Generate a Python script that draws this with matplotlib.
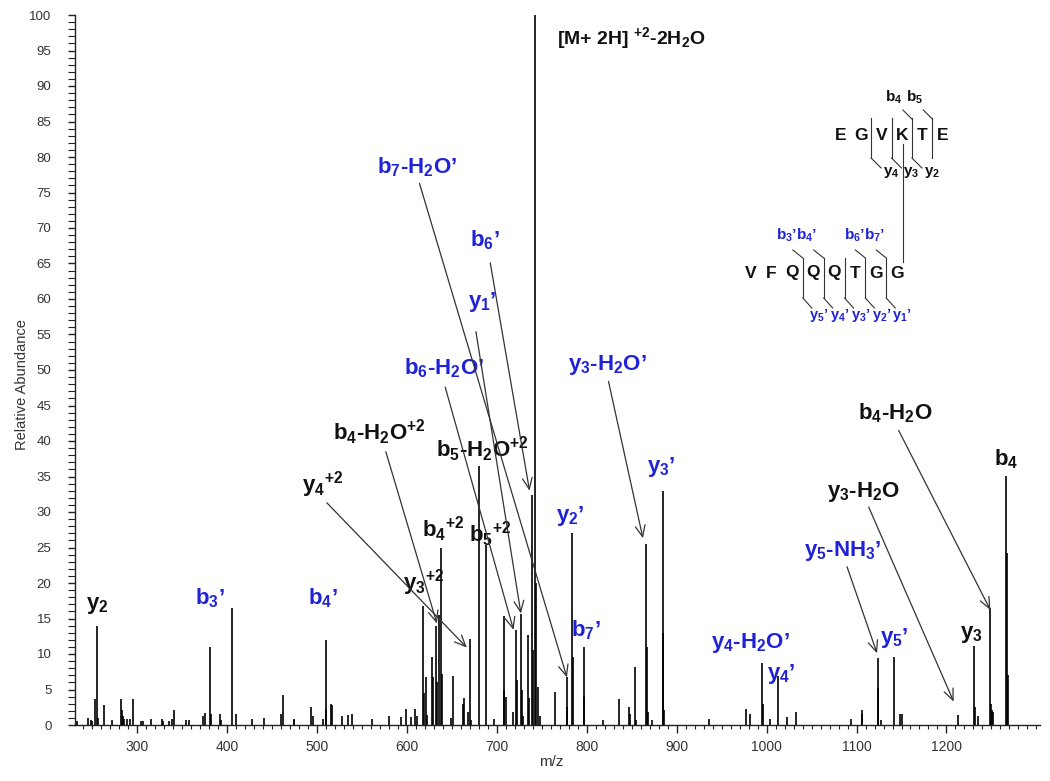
import matplotlib
matplotlib.use('Agg')
import matplotlib.pyplot as plt
from matplotlib.ticker import MultipleLocator
import matplotlib.transforms as mtrans

plt.rcParams['font.family'] = ['Liberation Sans', 'DejaVu Sans']
plt.rcParams['mathtext.fontset'] = 'custom'
plt.rcParams['mathtext.rm'] = 'Liberation Sans:bold'
plt.rcParams['mathtext.bf'] = 'Liberation Sans:bold'
plt.rcParams['mathtext.it'] = 'Liberation Sans:bold'

# ---------------- data ----------------
peak_mz = [233.6, 245, 248.5, 250, 253.3, 255.8, 257, 263, 272.5, 282.5, 283.3, 284.2, 285.5,
           288.5, 292, 296, 304, 307, 316, 328, 329, 335, 338.5, 341.5, 354.5, 358, 373.8, 375.3,
           381.6, 382.3, 392, 393.5, 406, 410, 428, 441.6, 459.8, 462, 474, 474.6, 493.5, 495.5,
           506.5, 510, 510.5, 515.8, 517, 527.7, 534, 539.5, 561, 579.6, 593.3, 599.2, 604.4,
           609.2, 611, 618.5, 619.2, 621.5, 622.5, 628.5, 629.5, 632, 633, 635.7, 638.2, 638.8,
           649, 651.8, 662.3, 663.8, 667.5, 670.4, 671.5, 679.7, 688, 697, 707.5, 708.5, 710.5,
           717.5, 721.2, 722, 726.8, 727.7, 729.5, 734.6, 736, 739.7, 740.5, 742.8, 744, 746,
           748, 765, 778, 778.6, 783.5, 784.2, 796.5, 797.2, 818, 835.5, 847.3, 848.5, 853.2,
           854.5, 866.2, 866.8, 868.5, 873, 884.7, 885.3, 886, 936, 977, 982, 995, 995.8, 1004,
           1012.3, 1022.6, 1032.7, 1094, 1105.7, 1106.3, 1123.5, 1124.2, 1127.5, 1141.3, 1148,
           1150.5, 1213, 1230.7, 1231.8, 1235.5, 1248.8, 1249.5, 1250.8, 1252, 1266.6, 1267.2,
           1268]
peak_int = [0.6, 1.0, 0.7, 0.6, 3.6, 14.0, 1.0, 2.8, 0.7, 3.7, 2.1, 1.2, 0.9,
            0.8, 0.8, 3.6, 0.6, 0.6, 0.8, 0.9, 0.6, 0.6, 0.9, 2.1, 0.7, 0.7, 1.2, 1.7,
            11.0, 1.5, 1.5, 0.7, 16.5, 1.5, 0.8, 1.0, 1.5, 4.2, 0.9, 0.7, 2.6, 1.2,
            0.8, 12.0, 2.3, 3.0, 2.8, 1.3, 1.4, 1.5, 0.9, 1.2, 1.1, 2.3, 1.1,
            2.3, 1.3, 16.7, 4.5, 6.7, 1.4, 9.6, 6.7, 14.0, 6.0, 15.5, 24.9, 7.2,
            1.0, 6.9, 3.0, 3.8, 1.9, 12.1, 0.7, 36.5, 25.3, 0.8, 15.3, 4.9, 4.0,
            1.9, 13.4, 6.3, 15.7, 4.9, 1.2, 12.7, 3.8, 32.4, 10.6, 100.0, 20.0, 5.4,
            1.2, 4.6, 6.8, 2.6, 27.1, 9.6, 11.0, 4.0, 0.7, 3.6, 2.6, 1.6, 8.1,
            0.7, 25.5, 11.0, 1.9, 0.7, 33.0, 13.0, 2.1, 0.8, 2.3, 1.6, 8.7, 3.0, 0.9,
            6.9, 1.1, 1.9, 0.9, 2.1, 1.5, 9.5, 5.2, 0.7, 9.6, 1.6,
            1.6, 1.4, 11.1, 2.6, 1.2, 16.5, 3.0, 2.1, 1.9, 35.1, 24.2,
            7.0]

BLUE = '#1f22d6'
BLACK = '#111111'

# peak labels: text, x (m/z), y (%), colour
label_text = ['b$_{7}$-H$_{2}$O’', 'b$_{6}$’', 'y$_{1}$’', 'b$_{6}$-H$_{2}$O’',
              'b$_{5}$-H$_{2}$O$^{+2}$', 'b$_{4}$-H$_{2}$O$^{+2}$', 'y$_{4}$$^{+2}$',
              'b$_{4}$$^{+2}$', 'b$_{5}$$^{+2}$', 'y$_{3}$$^{+2}$', 'y$_{2}$', 'b$_{3}$’', 'b$_{4}$’',
              'y$_{2}$’', 'b$_{7}$’', 'y$_{3}$-H$_{2}$O’', 'y$_{3}$’', 'y$_{4}$-H$_{2}$O’',
              'y$_{4}$’', 'y$_{5}$-NH$_{3}$’', 'y$_{5}$’', 'y$_{3}$-H$_{2}$O', 'y$_{3}$',
              'b$_{4}$-H$_{2}$O', 'b$_{4}$']
label_x = [611.5, 687.1, 683.8, 641.5, 683.8, 569.2, 505.8, 640.4, 692.7, 618.1, 255.5,
           381.2, 506.9, 781.6, 799.4, 822.8, 882.9, 981.9, 1016.4, 1084.2, 1142.0,
           1107.6, 1227.7, 1143.2, 1266.6]
label_y = [78.6, 68.3, 59.6, 50.3, 38.9, 41.3, 33.9, 27.6, 26.9, 20.0, 16.9, 17.9, 17.9,
           29.4, 13.4, 50.7, 36.3, 11.5, 7.2, 24.5, 12.3, 32.8, 12.7, 43.9, 37.5]
label_blue = [True, True, True, True, False, False, False, False, False, False, False,
              True, True, True, True, True, True, True, True, True, True, False, False,
              False, False]

# arrows: start (m/z, %) -> tip (m/z, %)
arrow_x0 = [614.0, 692.7, 676.8, 642.6, 576.6, 511.0, 824.2, 1089.4, 1113.5, 1146.8]
arrow_y0 = [76.3, 65.1, 55.4, 47.6, 38.5, 31.3, 48.4, 22.3, 30.7, 41.5]
arrow_x1 = [778.0, 736.4, 726.8, 718.6, 633.4, 666.7, 862.5, 1122.8, 1208.0, 1248.8]
arrow_y1 = [6.7, 33.0, 15.7, 13.4, 14.3, 10.9, 26.3, 10.1, 3.3, 16.2]

precursor_label = '[M+ 2H] $^{+2}$-2H$_{2}$O'

# cross-linked peptide sketch
seq_top = ['E', 'G', 'V', 'K', 'T', 'E']
seq_bottom = ['V', 'F', 'Q', 'Q', 'Q', 'T', 'G', 'G']
top_b_labels = ['b$_{4}$', 'b$_{5}$']
top_y_labels = ['y$_{4}$', 'y$_{3}$', 'y$_{2}$']
bot_b_labels = ['b$_{3}$’b$_{4}$’', 'b$_{6}$’b$_{7}$’']
bot_y_labels = ['y$_{5}$’', 'y$_{4}$’', 'y$_{3}$’', 'y$_{2}$’', 'y$_{1}$’']

# ---------------- figure ----------------
W, H = 1050, 781
fig = plt.figure(figsize=(W / 100, H / 100), dpi=100)
ax = fig.add_axes([75 / W, 1 - 725 / H, (1040 - 75) / W, (725 - 15) / H])

ax.vlines(peak_mz, 0, peak_int, color='black', lw=1.2)

ax.set_xlim(231, 1304)
ax.set_ylim(0, 100)
ax.spines['top'].set_visible(False)
ax.spines['right'].set_visible(False)
for s in ('left', 'bottom'):
    ax.spines[s].set_color('#222222')
    ax.spines[s].set_linewidth(1.0)
ax.set_xticks(range(300, 1201, 100))
ax.xaxis.set_minor_locator(MultipleLocator(10))
ax.yaxis.set_major_locator(MultipleLocator(5))
ax.yaxis.set_minor_locator(MultipleLocator(1))
ax.tick_params(axis='x', which='major', length=6, width=1, color='#222222',
               labelsize=10, labelcolor='#333333', pad=5)
ax.tick_params(axis='x', which='minor', length=3, width=0.8, color='#222222')
ax.tick_params(axis='y', which='major', length=5, width=1, color='#222222',
               labelsize=9.5, labelcolor='#333333', pad=12)
ax.tick_params(axis='y', which='minor', length=5, width=0.8, color='#222222')
ax.set_xlabel('m/z', fontsize=11, color='#333333')
ax.xaxis.set_label_coords(0.494, -0.042)
ax.set_ylabel('Relative Abundance', fontsize=10.5, color='#333333')
ax.yaxis.set_label_coords(-0.0477, 0.479)

for t, x, y, b in zip(label_text, label_x, label_y, label_blue):
    ax.text(x, y, t, ha='center', va='center', fontsize=16, fontweight='bold',
            color=BLUE if b else BLACK)

for x0, y0, x1, y1 in zip(arrow_x0, arrow_y0, arrow_x1, arrow_y1):
    ax.annotate('', xy=(x1, y1), xytext=(x0, y0),
                arrowprops=dict(arrowstyle='->,head_length=0.8,head_width=0.35',
                                color='#333333', lw=0.9, shrinkA=0, shrinkB=0))

ax.text(767, 96.8, precursor_label, ha='left', va='center', fontsize=14,
        fontweight='bold', color=BLACK)

# sketch in pixel coordinates of the figure
T = mtrans.Affine2D().scale(1 / W, -1 / H).translate(0, 1) + fig.transFigure
LC = '#333333'

def line(xs, ys):
    fig.add_artist(plt.Line2D(xs, ys, transform=T, color=LC, lw=0.8))

def txt(x, y, s, size, color):
    fig.text(x, y, s, transform=T, ha='center', va='center', fontsize=size,
             fontweight='bold', color=color)

# top chain
x0t, dxt, yt = 840.5, 20.4, 135
for i, a in enumerate(seq_top):
    txt(x0t + i * dxt, yt, a, 12.5, BLACK)
cuts_top = [x0t + (i + 0.5) * dxt for i in range(1, 5)]
for j, cx in enumerate(cuts_top):
    line([cx, cx], [118, 158])
    if j < 3:
        line([cx, cx + 10], [158, 168])
    if j >= 2:
        line([cx - 9, cx], [110, 119])
for j, s in enumerate(top_b_labels):
    txt(cuts_top[2 + j] - 18, 97, s, 11, BLACK)
for j, s in enumerate(top_y_labels):
    txt(cuts_top[j] + 20, 173, s, 11, BLACK)
# cross-link
kx = x0t + 3 * dxt + 1
line([kx, kx], [144, 262])

# bottom chain
x0b, dxb, yb = 750.7, 20.85, 273
for i, a in enumerate(seq_bottom):
    txt(x0b + i * dxb, yb, a, 12.5, BLACK)
cuts_bot = [x0b + (i + 0.5) * dxb for i in range(2, 7)]
for j, cx in enumerate(cuts_bot):
    line([cx, cx], [258, 298])
    line([cx, cx + 9], [298, 308])
    if j != 2:
        line([cx - 10, cx], [250, 258])
txt(cuts_bot[0] - 6, 235, bot_b_labels[0], 11, BLUE)
txt(cuts_bot[3] - 1, 235, bot_b_labels[1], 11, BLUE)
for j, s in enumerate(bot_y_labels):
    txt(cuts_bot[j] + 16, 315, s, 10.5, BLUE)

fig.savefig('out.png', dpi=100, facecolor='white')
